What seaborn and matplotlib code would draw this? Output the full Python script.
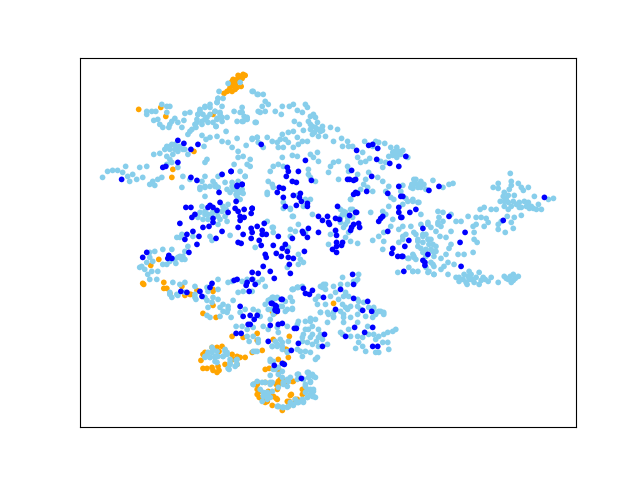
import pandas as pd
import matplotlib.pyplot as plt
import seaborn as sns

# embedding coordinates (y grows downwards)
orange_pts = [
    (243,75),(240,77),(237,80),(232,82),(242,79),(235,85),(230,88),(227,92),(224,94),(232,92),(237,88),(241,87),
    (245,76),(233,80),(238,76),(236,83),(233,86),(229,91),(235,90),(230,84),
    (139,110),(161,108),(166,117),(194,152),(173,170),(172,178),(213,115),
    (159,260),(151,266),(143,284),(164,283),(167,289),(182,287),(170,294),(185,296),(190,295),(197,291),(213,292),
    (333,304),(272,312),(274,314),(144,285),(164,289),(191,295),(213,290),(213,306),(203,314),(216,318),
    (232,337),(243,338),(257,334),(285,350),(289,337),(273,340),(257,341),(286,350),
    (222,347),(217,348),(212,348),(219,352),(205,353),(203,355),(201,361),(232,355),(237,357),(240,358),(245,358),
    (233,360),(237,365),(225,365),(218,367),(203,369),(207,369),(212,368),(213,371),(217,373),(219,371),
    (252,353),(262,351),(265,370),(269,369),(257,383),(265,383),(254,385),(278,384),(276,385),(282,380),(285,384),
    (293,382),(257,390),(257,395),(259,398),(268,392),(273,397),(277,400),(267,402),(262,400),(291,395),
    (282,411),(288,407),(295,403),(287,402),(297,400),(278,360),(288,358),(279,371),(283,364),(257,385),
    (278,382),(278,385),(280,380),(292,382),(277,390),(260,392),(276,399),(272,406),(265,403),(273,397),
    (290,396),(289,402),(295,400),(302,395),(302,390),
]

light_pts = [
    (240,83),(228,84),(219,92),(223,99),(218,99),(217,103),(210,105),(205,108),(200,112),(198,115),(203,115),(207,118),
    (202,122),(197,123),(208,123),(220,113),(215,112),(222,118),(217,119),(216,127),(227,118),(234,112),(242,108),
    (240,113),(244,117),(247,120),(242,122),(237,122),(256,123),(258,112),(252,92),(257,95),(226,132),(190,113),
    (185,114),(196,128),(190,132),(188,135),(202,136),(210,138),(206,140),(217,137),(222,142),(228,143),(237,139),
    (232,148),(246,146),(252,139),(257,138),(238,152),(238,158),(243,157),(250,160),(247,165),(250,167),(234,165),
    (240,172),(245,177),(238,182),
    (147,112),(147,115),(152,112),(156,112),(162,105),(167,107),(170,107),(167,113),(154,121),(158,120),(160,125),
    (163,128),(169,128),(172,122),(175,119),(178,123),(184,121),(182,128),(170,125),
    (172,145),(167,147),(170,150),(175,145),(180,147),(185,150),(178,152),(173,155),(167,157),(160,154),(154,155),
    (188,155),(204,147),(207,160),(205,163),(170,160),(172,163),(178,168),(167,165),
    (103,178),(108,172),(113,171),(118,171),(123,173),(126,167),(128,177),(133,175),(130,182),(137,180),(143,178),
    (140,168),(147,167),(153,182),(158,180),(162,178),(150,185),(155,186),(183,177),(190,180),(205,177),(202,182),
    (213,182),(218,177),(182,188),(200,188),(205,187),(215,187),(218,188),(225,183),
    (253,92),(258,95),(263,95),(265,102),(268,105),(262,107),(260,113),(265,112),(275,112),(281,115),(282,107),
    (289,107),(293,105),(305,105),(307,108),(297,111),(302,113),(313,115),(310,117),(315,118),(294,122),(299,125),
    (255,123),(303,131),(293,132),(288,133),(312,127),(317,123),(322,127),(330,128),(337,130),(320,132),(318,137),
    (325,137),(312,135),(307,142),(297,138),(302,142),(282,135),(280,140),(285,140),(277,143),(278,148),(283,148),
    (288,143),(293,148),(298,145),(252,140),(257,138),(267,138),(258,143),(263,148),(272,142),(333,142),(341,139),
    (342,147),(347,142),(352,147),(348,147),(364,142),(375,142),(378,143),(384,144),(390,148),(396,148),(402,151),
    (397,155),(392,153),(388,157),(407,158),(372,147),(362,153),(357,158),(360,163),(369,159),(365,162),(380,162),
    (385,163),(382,168),(292,156),(297,157),(310,155),(313,158),(318,162),(317,153),(282,158),(273,167),(270,172),
    (278,165),(283,167),(308,170),(308,175),(310,178),(315,182),(333,163),(338,162),(330,167),(328,173),(338,180),
    (347,167),(348,172),(357,175),(368,173),(365,180),(377,178),(382,182),(363,185),(360,190),(367,188),(372,192),
    (385,192),(388,187),(350,200),(340,210),(352,210),(343,212),(267,193),(268,182),(272,185),(273,188),(283,203),
    (290,209),(305,200),(303,207),(415,180),(413,185),(420,188),(410,188),(407,202),(393,200),(388,207),(400,192),
    (412,202),(417,203),(390,198),
    (509,174),(510,182),(510,186),(517,184),(520,188),(522,191),(527,188),(497,184),(492,188),(497,189),(503,193),
    (507,196),(502,197),(499,202),(503,202),(507,203),(512,202),(518,203),(523,202),(527,203),(533,197),(537,205),
    (532,209),(528,209),(535,210),(540,210),(547,200),(552,199),(507,210),(518,208),(520,216),(513,218),(510,223),
    (506,217),(500,222),(497,225),(497,230),(504,233),(512,229),(479,210),(483,208),(490,210),(495,210),(467,217),
    (475,218),(480,218),(485,219),(487,223),(475,225),(472,227),(483,227),(473,233),(473,240),(476,243),(472,253),
    (463,255),(457,255),
    (413,180),(411,185),(412,189),(417,188),(420,182),(423,185),(425,190),(432,181),(442,188),(448,185),(452,184),
    (402,186),(405,199),(412,200),(418,203),(420,215),(402,205),(437,212),(442,213),(438,218),(442,222),(437,225),
    (455,222),(460,222),(450,215),(427,223),(440,227),(430,228),(420,225),(410,227),(402,227),(405,235),(415,235),
    (422,235),(450,232),(439,237),(445,238),(430,240),(422,243),(417,242),(402,240),(450,245),(448,249),(420,249),
    (425,250),(413,257),(415,260),(408,259),(433,257),(440,259),(445,255),(422,253),(430,263),(433,267),(428,272),
    (443,267),(440,270),(447,263),(453,265),(408,268),(412,272),(417,272),(425,268),(433,275),(447,275),(455,278),
    (458,282),(463,275),(468,272),(468,280),(465,283),(472,280),(478,273),(482,278),(478,285),(487,282),(490,278),
    (497,283),(503,277),(507,280),(512,275),(517,277),(512,281),(470,275),
    (205,188),(210,187),(200,190),(215,185),(218,188),(222,175),(232,183),(233,190),(238,192),(243,194),(237,197),
    (240,200),(245,177),(227,190),(205,197),(202,207),(205,212),(200,213),(198,218),(203,220),(208,220),(212,215),
    (217,213),(223,207),(228,205),(225,217),(220,220),(227,222),(218,225),(230,236),(210,237),(212,241),(193,237),
    (180,238),(177,238),(182,235),(188,247),
    (163,250),(172,250),(155,252),(150,253),(150,258),(153,262),(147,263),(140,268),(145,270),(142,267),(152,272),
    (158,272),(163,265),(167,265),(175,260),(180,257),(185,252),(182,260),(185,260),(148,275),(150,280),(157,280),
    (173,283),(180,285),(185,283),(195,287),(218,280),(228,283),(232,282),(242,282),(247,280),(253,280),(258,283),
    (262,280),(265,287),(243,292),(252,292),(238,293),(208,292),(218,290),(207,288),(170,293),(177,295),(195,295),
    (273,298),(195,298),(205,298),(213,298),(288,248),(287,268),(255,248),(293,290),(267,195),(290,210),(293,217),
    (273,228),(267,222),
    (345,213),(342,215),(347,218),(350,210),(340,223),(345,225),(335,232),(348,233),(345,238),(330,235),(328,245),
    (357,244),(350,242),(370,213),(382,212),(385,215),(392,220),(390,227),(383,233),(378,237),(372,241),(383,242),
    (398,230),(402,237),(398,243),(382,250),(413,233),(417,240),(422,237),(427,240),(417,247),(412,255),(413,258),
    (430,250),(435,252),(437,223),(427,225),(432,265),(427,273),(433,275),(412,272),(397,273),(407,259),
    (292,217),(290,230),(295,232),(298,225),(305,233),(290,237),(272,228),(273,233),(298,255),(300,260),(303,263),
    (298,265),(297,196),(283,209),(310,200),(312,215),(350,200),
    (342,278),(358,275),(357,280),(353,282),(347,285),(292,290),(297,288),(302,287),(320,287),(323,285),(325,290),
    (333,287),(335,293),(345,293),(348,297),(330,297),(318,297),(315,300),(317,305),(325,305),(338,300),(342,305),
    (345,308),(350,307),(358,302),(368,308),(373,308),(380,312),(383,315),(357,315),(327,313),(320,313),(333,317),
    (343,318),(292,302),(285,302),(280,307),(287,310),(292,309),(272,298),(275,299),(310,319),
    (170,295),(172,298),(185,293),(178,296),(196,300),(207,301),(212,303),(218,300),(223,305),(228,307),(233,301),
    (208,308),(220,308),(223,312),(227,313),(207,316),(210,318),(220,317),(231,318),(228,310),(245,310),(253,310),
    (258,312),(260,317),(240,313),(236,327),(242,327),(253,328),(247,330),(263,327),(268,330),(277,328),(287,327),
    (297,325),(247,337),(253,337),(249,342),(258,340),(258,343),(268,301),(268,310),(277,298),(282,307),(285,312),
    (292,310),(290,298),(273,315),(270,320),(278,333),(282,343),(288,342),(275,342),(272,347),(277,347),(282,350),
    (292,290),(297,288),(253,352),(257,352),(287,353),
    (212,353),(207,356),(205,358),(210,358),(215,357),(213,350),(225,350),(227,353),(223,357),(218,357),(215,362),
    (230,360),(236,361),(230,365),(235,367),(229,370),(270,362),(278,368),(282,372),(273,370),(270,376),(278,375),
    (282,378),(297,375),(288,382),(272,383),(278,388),(283,385),(297,380),(267,393),(263,397),(270,398),(267,400),
    (277,407),(282,408),(287,408),(290,403),(295,400),(298,403),
    (298,288),(322,288),(325,285),(340,285),(355,282),(343,297),
    (310,322),(305,322),(315,320),(298,322),(308,330),(312,327),(318,330),(320,335),(303,335),(310,338),(318,338),
    (327,345),(318,347),(312,345),(307,343),(302,342),(297,350),(300,352),(305,352),(310,353),(302,357),(315,360),
    (317,358),(280,340),(277,345),(272,347),(282,347),(287,352),
    (340,333),(342,335),(348,330),(350,337),(357,337),(358,343),(355,349),(362,347),(365,352),(362,338),(368,335),
    (373,335),(367,327),(378,337),(383,335),(387,333),(392,332),(395,330),(382,343),(387,343),(375,353),(378,353),
    (388,350),(375,340),(357,323),(333,318),(343,323),(320,313),(328,315),(333,313),(327,323),(340,312),(343,315),
    (347,310),(350,318),(357,300),(363,303),(360,310),(357,307),(373,310),(378,312),(383,313),(375,315),(365,317),
    (372,318),
    (307,373),(312,375),(315,378),(308,378),(303,380),(310,383),(305,387),(310,390),(313,390),(305,393),(310,395),
    (313,397),(307,398),(302,400),(303,403),(297,403),(293,406),(290,378),(287,380),(298,375),(278,407),(283,408),
    (272,392),(270,385),(262,402),(267,397),(253,385),(255,352),(270,360),(273,362),(275,370),
    # denser patches
    (308,373),(313,377),(310,382),(305,385),(307,390),(313,392),(310,395),(307,398),(303,402),(298,403),(293,405),
    (288,407),(283,408),(278,407),(312,397),(315,398),(257,382),(262,383),(265,383),(253,385),(270,383),(268,395),
    (263,393),(260,390),(298,375),(303,380),(287,387),(283,383),
    (218,99),(217,103),(222,107),(210,108),(205,107),(200,110),(198,115),(197,120),(195,125),(192,130),(202,125),
    (205,120),(210,115),(215,112),(220,115),(217,120),(213,123),(222,122),(216,127),(242,113),(247,118),(243,122),
    (212,348),(208,353),(205,357),(210,358),(217,352),(225,352),(227,355),(223,357),(215,358),(217,363),(237,360),
    (230,363),(237,365),(228,369),
    (505,200),(510,207),(515,205),(520,208),(503,207),(508,190),(525,207),(530,207),(513,196),
    (462,280),(467,277),(470,280),(475,278),(473,283),(480,281),(466,285),(458,278),(484,280),
    (505,279),(509,277),(514,279),(510,283),
    (308,122),(310,125),(315,128),(318,130),(314,133),(322,131),(310,130),
    (414,183),(418,185),(420,186),(345,215),(340,218),(347,222),(352,218),(343,228),
    (235,190),(240,193),(236,195),(242,190),(232,187),(230,193),
    (394,152),(398,152),(400,155),(396,158),(392,156),
    (175,150),(170,147),(165,150),(178,148),(183,150),
    (170,262),(178,258),(183,257),(176,264),
    (205,215),(208,215),(213,212),(218,217),(222,212),(226,210),
    (425,235),(428,240),(435,232),(432,245),(428,245),(425,257),(432,252),(435,247),
    (305,330),(302,338),(312,335),(316,342),(322,340),(265,305),(272,310),(270,300),
]

blue_pts = [
    (178,141),(184,144),(198,145),(191,150),(178,163),(166,167),(163,168),(122,180),(191,178),(197,181),(222,175),
    (231,172),(237,187),(242,185),(261,145),(287,168),(288,172),(298,172),(286,177),(292,182),(296,183),(311,181),
    (305,161),(279,188),(283,189),(277,193),(283,198),(293,196),(300,194),(299,198),(301,202),(296,206),(307,204),
    (307,207),(285,207),(252,209),(337,207),(355,213),(356,151),(368,146),(372,145),(377,149),(376,160),(351,171),
    (347,180),(349,180),(355,180),(353,181),(371,177),(366,192),(355,193),(357,194),(353,195),(389,164),(398,167),
    (405,157),(398,187),(387,194),(400,197),(398,208),(398,213),(415,210),(409,213),
    (428,191),(438,187),(543,198),(502,221),(448,217),(464,233),(459,243),(460,267),(422,229),(408,241),(404,247),
    (427,255),(422,261),(424,263),(424,266),(403,272),(402,257),(402,197),(401,218),
    (219,193),(237,186),(242,185),(231,172),(236,202),(220,203),(210,206),(208,208),(213,208),(217,211),(191,208),
    (186,208),(195,215),(192,218),(213,219),(213,223),(180,224),(203,228),(209,227),(222,232),(193,232),(187,235),
    (199,237),(185,240),(216,239),(197,245),(189,253),(147,253),(143,258),(169,256),(168,259),(172,259),(228,213),
    (235,209),(238,212),(244,210),(252,209),(251,214),(240,217),(244,218),(240,221),(238,228),(251,229),(252,233),
    (257,227),(264,224),(262,231),(262,235),(266,235),(243,235),(251,239),(259,241),(238,243),(241,244),(261,246),
    (273,246),(278,237),(292,239),(285,245),(282,249),(276,254),(281,257),(288,258),(293,259),(265,255),(266,258),
    (289,265),(263,267),(270,272),(290,274),(274,279),(252,273),(258,274),(252,280),(247,283),(246,286),(255,285),
    (249,292),(237,280),(234,281),(212,284),(210,288),(200,292),(202,297),(187,293),(181,292),
    (318,217),(322,221),(327,217),(328,223),(329,225),(335,219),(339,220),(356,213),(349,216),(318,233),(335,231),
    (336,236),(308,229),(302,232),(303,234),(307,238),(304,252),(336,243),(336,247),(332,250),(336,253),(342,243),
    (341,246),(353,225),(351,228),(350,231),(358,224),(359,228),(387,232),(382,217),(378,222),(380,219),(400,218),
    (392,249),(391,254),(397,257),(401,257),(352,275),(353,285),(340,290),(303,289),(305,294),(309,295),(312,291),
    (323,298),(353,299),(367,302),(335,310),(362,311),(371,312),(282,300),(276,307),(275,311),(277,312),(272,304),
    (287,252),(274,366),(282,364),(284,365),(268,342),(291,351),(298,344),(294,329),(296,329),(236,334),(241,334),
    (248,325),(250,325),(243,317),(250,316),(254,320),(257,316),(240,307),(270,326),(278,325),(282,324),(271,304),
    (275,306),(275,310),(277,311),(281,300),(301,379),(322,347),(324,335),(345,337),(354,328),(364,333),(372,328),
    (372,347),(377,347),
]

frames = []
for group, pts in [('orange', orange_pts), ('light', light_pts), ('blue', blue_pts)]:
    part = pd.DataFrame(pts, columns=['x', 'y'])
    part['group'] = group
    frames.append(part)
df = pd.concat(frames, ignore_index=True)

fig, ax = plt.subplots(figsize=(6.4, 4.8), dpi=100)
sns.scatterplot(data=df, x='x', y='y', hue='group',
                palette={'orange': 'orange', 'light': 'skyblue', 'blue': 'blue'},
                s=17, linewidth=0, legend=False, ax=ax)
ax.invert_yaxis()
ax.set_xticks([])
ax.set_yticks([])
ax.set_xlabel('')
ax.set_ylabel('')
fig.savefig('out.png', dpi=100)
